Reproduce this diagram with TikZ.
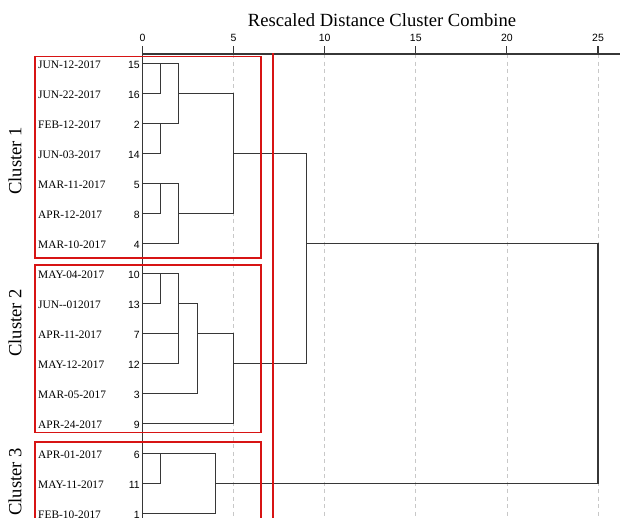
\documentclass[tikz,border=0pt]{standalone}
\usepackage{fontspec}
\setmainfont{Liberation Serif}
\newfontfamily\numfont{Liberation Sans}
\usetikzlibrary{positioning}
\definecolor{dendrogray}{RGB}{55, 55, 55}
\definecolor{gridgray}{RGB}{200, 200, 200}
\definecolor{boxred}{RGB}{215, 20, 20}

\begin{document}
\begin{tikzpicture}[x=1pt, y=-1pt,
    link/.style={draw=dendrogray, line width=1.1pt, line cap=rect},
    gridline/.style={draw=gridgray, line width=0.8pt, dash pattern=on 4pt off 3.5pt},
    clusterbox/.style={draw=boxred, line width=1.3pt},
    cutline/.style={draw=boxred, line width=2.2pt},
    datelabel/.style={anchor=west, inner sep=0pt, font=\fontsize{11.4}{12}\selectfont},
    caselabel/.style={anchor=east, inner sep=0pt, font=\numfont\fontsize{10.5}{12}\selectfont},
    ticklabel/.style={inner sep=0pt, font=\numfont\fontsize{10.5}{12}\selectfont},
    clusterlabel/.style={rotate=90, inner sep=0pt, font=\fontsize{18.6}{20}\selectfont}]
    \useasboundingbox (0,0) rectangle (620,517);

    % Title
    \node[anchor=base, inner sep=0pt, font=\fontsize{18.6}{20}\selectfont] (title) at (382,26) {Rescaled Distance Cluster Combine};

    % Case labels (row, case number, date)
    \foreach \r/\num/\date in {0/15/JUN-12-2017, 1/16/JUN-22-2017, 2/2/FEB-12-2017, 3/14/JUN-03-2017,
                               4/5/MAR-11-2017, 5/8/APR-12-2017, 6/4/MAR-10-2017,
                               7/10/MAY-04-2017, 8/13/JUN-{}-012017, 9/7/APR-11-2017, 10/12/MAY-12-2017,
                               11/3/MAR-05-2017, 12/9/APR-24-2017,
                               13/6/APR-01-2017, 14/11/MAY-11-2017, 15/1/FEB-10-2017} {
        \node[datelabel] (date\r) at (38,{65+30*\r}) {\date};
        \node[caselabel] (case\r) at (140,{65+30*\r}) {\num};
    }

    % Cluster names
    \node[clusterlabel] (clu1) at (15,161) {Cluster 1};
    \node[clusterlabel] (clu2) at (15,323) {Cluster 2};
    \node[clusterlabel] (clu3) at (15,482) {Cluster 3};

    \begin{scope}[shift={(142.5,63.3)}, x=18.22pt, y=-30pt]
        % Grid and axis
        \foreach \t in {5,10,...,25} {
            \draw[gridline] (\t,-0.31) -- (\t,15.4);
        }
        \draw[link] (0,-0.31) -- (26.3,-0.31);
        \draw[link] (0,-0.31) -- (0,15.4);
        \foreach \t in {0,5,...,25} {
            \draw[link] (\t,-0.31) -- (\t,-0.57);
            \node[ticklabel] (tick\t) at (\t,-0.86) {\t};
        }

        % Cluster 1
        \draw[link] (0,0) -- (2,0) -- (2,2) -- (0,2);
        \draw[link] (1,0) |- (0,1);
        \draw[link] (1,2) |- (0,3);
        \draw[link] (2,1) -- (5,1) -- (5,5) -- (2,5);
        \draw[link] (0,4) -- (2,4) -- (2,6) -- (0,6);
        \draw[link] (1,4) |- (0,5);

        % Cluster 2
        \draw[link] (0,7) -- (2,7) -- (2,10) -- (0,10);
        \draw[link] (1,7) |- (0,8);
        \draw[link] (0,9) -- (2,9);
        \draw[link] (2,8) -- (3,8) -- (3,11) -- (0,11);
        \draw[link] (3,9) -- (5,9) -- (5,12) -- (0,12);

        % Cluster 3
        \draw[link] (0,13) -- (4,13) -- (4,15) -- (0,15);
        \draw[link] (1,13) |- (0,14);

        % Top joins
        \draw[link] (5,3) -- (9,3) -- (9,10) -- (5,10);
        \draw[link] (9,6) -- (25,6) -- (25,14) -- (4,14);
    \end{scope}

    % Cluster boxes and cut line
    \draw[clusterbox] (35,56.5) rectangle (261,258);
    \draw[clusterbox] (35,265) rectangle (261,432.5);
    \draw[clusterbox] (35,442) rectangle (261,530);
    \draw[cutline] (273.3,53) -- (273.3,530);
\end{tikzpicture}
\end{document}
